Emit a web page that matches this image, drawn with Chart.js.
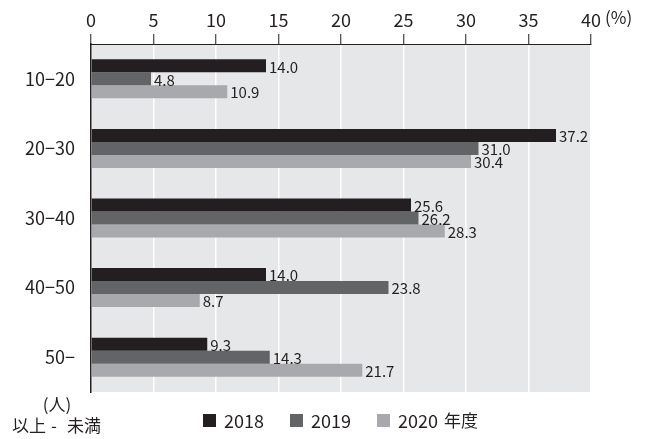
<!DOCTYPE html>
<html>
<head>
<meta charset="utf-8">
<script src="https://cdn.jsdelivr.net/npm/chart.js@4"></script>
<style>
  html, body { margin: 0; padding: 0; background: #fff; }
  #wrap { width: 649px; height: 439px; }
</style>
</head>
<body>
<div id="wrap"><canvas id="chart" width="649" height="439"></canvas></div>
<script>
const categories = ["10−20", "20−30", "30−40", "40−50", "50−"];
const years = ["2018", "2019", "2020 年度"];
const values2018 = [14.0, 37.2, 25.6, 14.0, 9.3];
const values2019 = [4.8, 31.0, 26.2, 23.8, 14.3];
const values2020 = [10.9, 30.4, 28.3, 8.7, 21.7];
const xTicks = [0, 5, 10, 15, 20, 25, 30, 35, 40];

const colors = ["#231f20", "#636466", "#a7a9ac"];
const FONT = "'Noto Sans CJK JP', sans-serif";

// grey panel behind the bars
const panelBg = {
    id: "panelBg",
    beforeDraw(chart) {
        const { ctx, chartArea: a } = chart;
        ctx.save();
        ctx.fillStyle = "#e6e7e8";
        ctx.fillRect(a.left, a.top, a.right - a.left, a.bottom - a.top);
        ctx.restore();
    }
};

// value labels, unit, legend and footnote
const extras = {
    id: "extras",
    afterDatasetsDraw(chart) {
        const { ctx } = chart;
        ctx.save();
        ctx.fillStyle = "#231f20";
        ctx.font = "15px " + FONT;
        ctx.textBaseline = "middle";
        ctx.textAlign = "left";
        chart.data.datasets.forEach((ds, i) => {
            chart.getDatasetMeta(i).data.forEach((bar, j) => {
                ctx.fillText(ds.data[j].toFixed(1), bar.x + 3, bar.y + 1);
            });
        });

        // unit after the last tick
        ctx.font = "17px " + FONT;
        ctx.fillText("(%)", 605, 18);

        // legend
        const lx = [203, 290, 377];
        years.forEach((y, i) => {
            ctx.fillStyle = colors[i];
            ctx.fillRect(lx[i], 414, 13, 13);
            ctx.fillStyle = "#231f20";
            ctx.font = "18px " + FONT;
            if (i === 2) {
                ctx.fillText("2020", lx[i] + 21, 421);
                ctx.font = "17px " + FONT;
                ctx.fillText("年度", lx[i] + 67, 421);
            } else {
                ctx.fillText(y, lx[i] + 21, 421);
            }
        });

        // axis note
        ctx.font = "17px " + FONT;
        ctx.textAlign = "center";
        ctx.fillText("(人)", 57, 405);
        ctx.textAlign = "left";
        ctx.fillText("以上", 12, 426);
        ctx.fillText("-", 51, 426);
        ctx.fillText("未満", 67, 426);
        ctx.restore();
    }
};

new Chart(document.getElementById("chart"), {
    type: "bar",
    data: {
        labels: categories,
        datasets: [
            { label: years[0], data: values2018, backgroundColor: colors[0] },
            { label: years[1], data: values2019, backgroundColor: colors[1] },
            { label: years[2], data: values2020, backgroundColor: colors[2] }
        ]
    },
    options: {
        indexAxis: "y",
        responsive: false,
        animation: false,
        categoryPercentage: 0.56,
        barPercentage: 1.0,
        layout: { padding: { top: 0, left: 0, right: 58, bottom: 47 } },
        plugins: {
            legend: { display: false },
            tooltip: { enabled: false }
        },
        scales: {
            x: {
                position: "top",
                min: 0,
                max: 40,
                afterBuildTicks(scale) {
                    scale.ticks = xTicks.map(v => ({ value: v }));
                },
                afterFit(scale) { scale.height = 44; },
                grid: {
                    color: "#ffffff",
                    lineWidth: 1.5,
                    tickColor: "#231f20",
                    tickLength: 10,
                    tickWidth: 1
                },
                border: { display: true, color: "#231f20", width: 1 },
                ticks: {
                    color: "#231f20",
                    font: { family: FONT, size: 18 },
                    padding: 3
                }
            },
            y: {
                afterFit(scale) { scale.width = 91; },
                grid: { display: false },
                border: { display: true, color: "#231f20", width: 1.5 },
                ticks: {
                    color: "#231f20",
                    font: { family: FONT, size: 18 },
                    padding: 8
                }
            }
        }
    },
    plugins: [panelBg, extras]
});
</script>
</body>
</html>
